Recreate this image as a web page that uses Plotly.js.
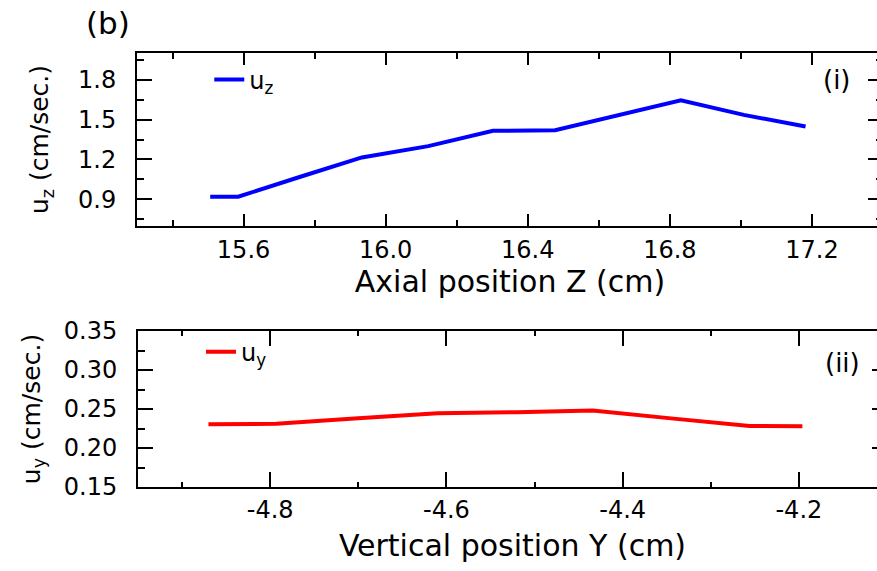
<!DOCTYPE html>
<html>
<head>
<meta charset="utf-8">
<script src="https://cdn.plot.ly/plotly-3.0.1.min.js"></script>
<style>html,body{margin:0;padding:0;overflow:hidden;background:#fff;}#chart{width:890px;height:571px;}</style>
</head>
<body>
<div id="chart"></div>
<script>
// Panel (i): axial velocity vs axial position
const axialPositionZ = [15.506, 15.585, 15.76, 15.933, 16.12, 16.302, 16.477, 16.65, 16.831, 17.008, 17.182];
const uzValues       = [0.92,   0.92,   1.07,  1.215,  1.30,  1.415,  1.42,   1.53,  1.645,  1.535,  1.447];

// Panel (ii): vertical velocity vs vertical position
const verticalPositionY = [-4.870, -4.793, -4.70, -4.61, -4.52, -4.434, -4.345, -4.256, -4.196];
const uyValues          = [0.2305, 0.231,  0.238, 0.2445, 0.246, 0.248, 0.238,  0.2283, 0.228];

const bottomTickVals = [-4.8, -4.6, -4.4, -4.2];
const bottomTickText = ['-4.8', '-4.6', '-4.4', '-4.2'];

const FONT = 'DejaVu Sans, Arial, sans-serif';

const traces = [
  {x: axialPositionZ, y: uzValues, type: 'scatter', mode: 'lines', name: 'u<sub>z</sub>',
   line: {color: '#0000FF', width: 4}, xaxis: 'x', yaxis: 'y', legend: 'legend'},
  {x: verticalPositionY, y: uyValues, type: 'scatter', mode: 'lines', name: 'u<sub>y</sub>',
   line: {color: '#FF0000', width: 4}, xaxis: 'x2', yaxis: 'y2', legend: 'legend2'}
];

const axCommon = {
  showline: true, linecolor: '#000', linewidth: 2, mirror: 'allticks',
  ticks: 'inside', tickcolor: '#000', tickwidth: 2,
  showgrid: false, zeroline: false,
  tickfont: {family: FONT, size: 24, color: '#000'},
  automargin: false
};

const layout = {
  width: 890, height: 571,
  margin: {l: 137, r: 0, t: 53, b: 84},
  paper_bgcolor: '#fff', plot_bgcolor: '#fff',
  font: {family: FONT, color: '#000'},
  showlegend: true,
  xaxis: Object.assign({}, axCommon, {
    domain: [0, 0.9907], anchor: 'y', range: [15.3, 17.4],
    tick0: 15.6, dtick: 0.4, tickformat: '.1f', ticklen: 12, ticklabelstandoff: 1,
    minor: {ticks: 'inside', ticklen: 6, tickwidth: 2, tickcolor: '#000', tick0: 15.4, dtick: 0.2, showgrid: false},
    title: {text: 'Axial position Z (cm)', font: {family: FONT, size: 30, color: '#000'}, standoff: 2}
  }),
  yaxis: Object.assign({}, axCommon, {
    domain: [0.6014, 1], anchor: 'x', range: [0.7, 2.0],
    tick0: 0.9, dtick: 0.3, tickformat: '.1f', ticklen: 15, ticklabelstandoff: 14,
    minor: {ticks: 'inside', ticklen: 7, tickwidth: 2, tickcolor: '#000', tick0: 0.75, dtick: 0.15, showgrid: false},
    title: {text: 'u<sub>z</sub> (cm/sec.)', font: {family: FONT, size: 25, color: '#000'}, standoff: 22}
  }),
  xaxis2: Object.assign({}, axCommon, {
    domain: [0.0013, 0.996], anchor: 'y2', range: [-4.95, -4.1],
    tickmode: 'array', tickvals: bottomTickVals, ticktext: bottomTickText,
    ticklen: 15, ticklabelstandoff: 0,
    minor: {ticks: 'inside', ticklen: 5, tickwidth: 2, tickcolor: '#000', tick0: -4.9, dtick: 0.2, showgrid: false},
    title: {text: 'Vertical position Y (cm)', font: {family: FONT, size: 30, color: '#000'}, standoff: 12}
  }),
  yaxis2: Object.assign({}, axCommon, {
    domain: [0, 0.3594], anchor: 'x2', range: [0.15, 0.35],
    tick0: 0.15, dtick: 0.05, tickformat: '.2f', ticklen: 15, ticklabelstandoff: 14,
    minor: {ticks: 'inside', ticklen: 7, tickwidth: 2, tickcolor: '#000', tick0: 0.175, dtick: 0.05, showgrid: false},
    title: {text: 'u<sub>y</sub> (cm/sec.)', font: {family: FONT, size: 25, color: '#000'}, standoff: 16}
  }),
  legend: {x: 0.096, y: 0.9378, xanchor: 'left', yanchor: 'middle', bgcolor: 'rgba(0,0,0,0)',
           font: {family: FONT, size: 24, color: '#000'}, borderwidth: 0},
  legend2: {x: 0.085, y: 0.311, xanchor: 'left', yanchor: 'middle', bgcolor: 'rgba(0,0,0,0)',
            font: {family: FONT, size: 24, color: '#000'}, borderwidth: 0},
  annotations: [
    {text: '(b)', xref: 'paper', yref: 'paper', x: -0.0385, y: 1.069, showarrow: false,
     font: {family: FONT, size: 31, color: '#000'}, xanchor: 'center', yanchor: 'middle'},
    {text: '(i)', xref: 'paper', yref: 'paper', x: 0.9296, y: 0.9378, showarrow: false,
     font: {family: FONT, size: 26, color: '#000'}, xanchor: 'center', yanchor: 'middle'},
    {text: '(ii)', xref: 'paper', yref: 'paper', x: 0.9363, y: 0.2857, showarrow: false,
     font: {family: FONT, size: 26, color: '#000'}, xanchor: 'center', yanchor: 'middle'}
  ]
};

Plotly.newPlot('chart', traces, layout, {staticPlot: true, displayModeBar: false});
</script>
</body>
</html>
